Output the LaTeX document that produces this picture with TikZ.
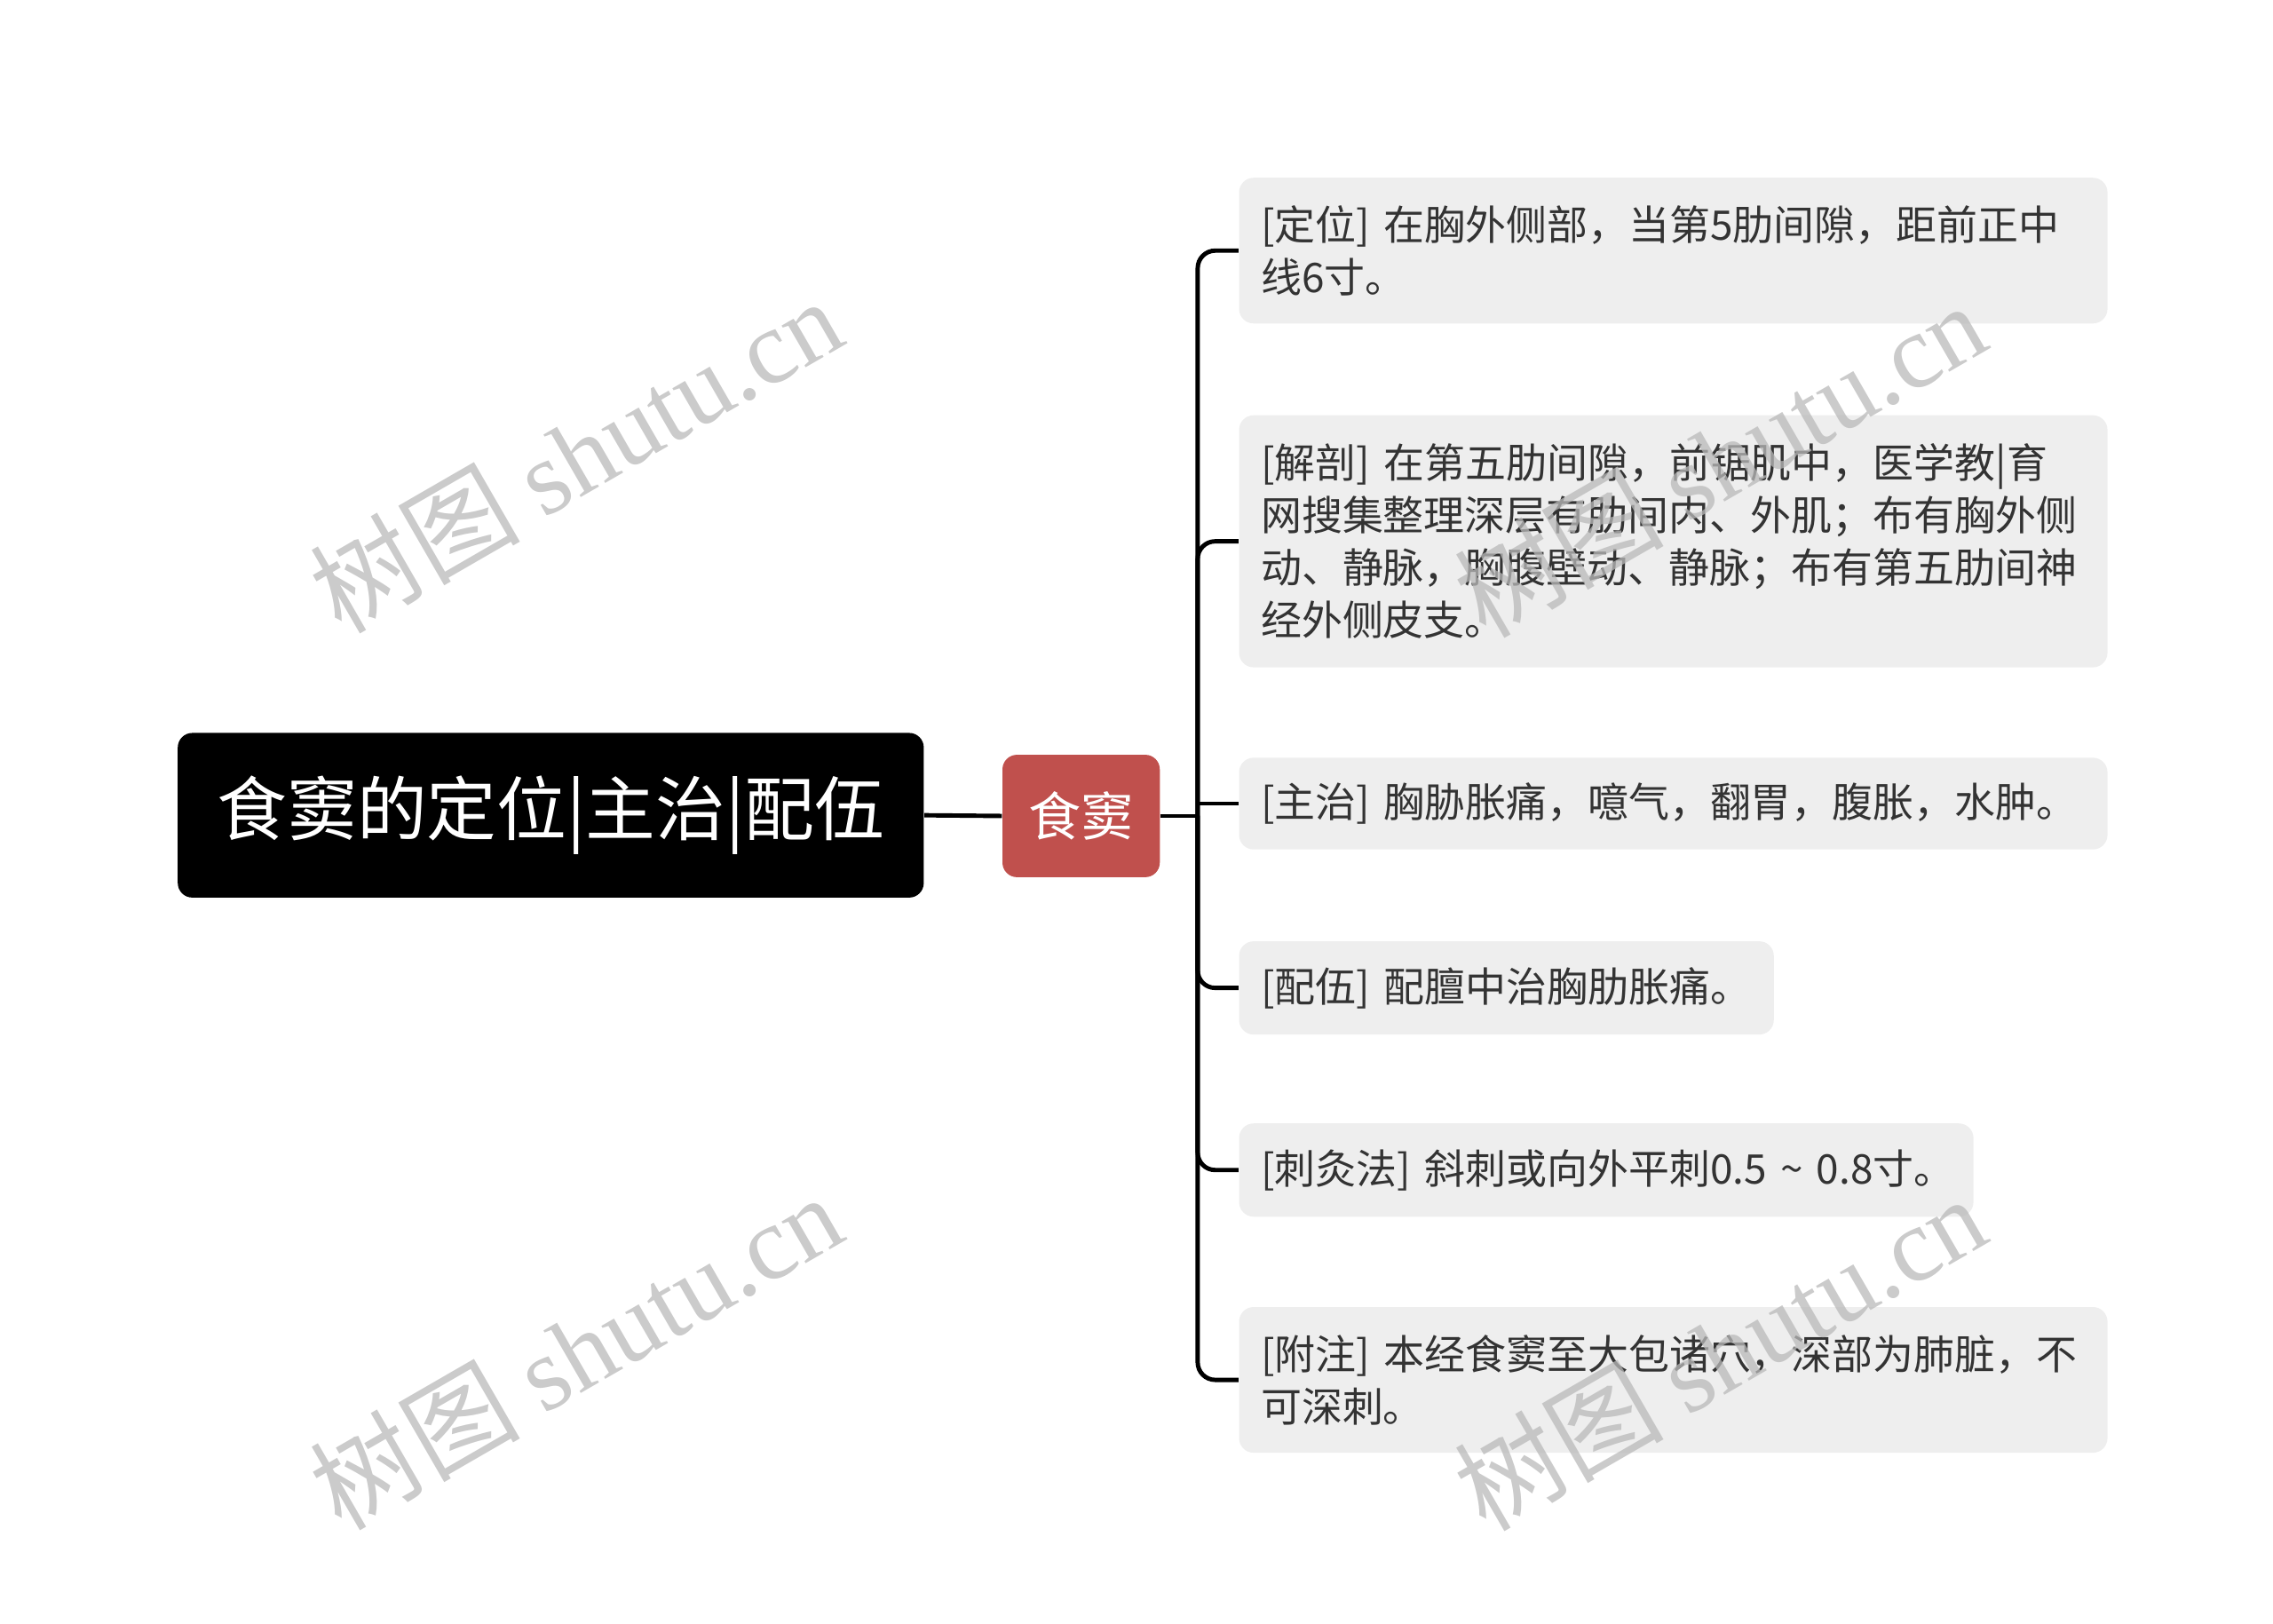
\documentclass[tikz,border=0pt]{standalone}
\usepackage{fontspec}
\setmainfont{Noto Sans CJK SC}
\newfontfamily\wmfont{Liberation Serif}
\usetikzlibrary{calc}

\definecolor{hubred}{RGB}{192,80,77}
\definecolor{leafgray}{RGB}{238,238,238}
\definecolor{leaftext}{RGB}{51,51,51}
\definecolor{wmgray}{RGB}{185,185,185}

\begin{document}
\begin{tikzpicture}[
  x=0.5pt,y=-0.5pt,
  link/.style={draw=black,line width=1.5pt,rounded corners=6pt},
  topic/.style={rectangle,rounded corners=5pt,inner sep=0pt,align=center},
  leaf/.style={rectangle,rounded corners=5pt,fill=leafgray,text=leaftext,anchor=west,
    align=left,inner xsep=7.5pt,inner ysep=0pt,font=\fontsize{14}{18}\selectfont},
  wmark/.style={text=wmgray,text opacity=0.75,rotate=30,font=\fontsize{36}{36}\selectfont}
]

\useasboundingbox (0,0) rectangle (1560,1114);

% root and hub
\node[topic,fill=black,text=white,minimum width=256pt,minimum height=56.5pt,
  font=\fontsize{24}{24}\selectfont] (root) at (378,559.5) {食窦的定位|主治|配伍};
\node[topic,fill=hubred,text=white,minimum width=54pt,minimum height=42pt,
  font=\fontsize{18}{18}\selectfont] (hub) at (742,560) {食窦};

% leaves
\node[leaf,text width=283pt,minimum height=50pt] (dingwei) at (850,172)
  {[定位] 在胸外侧部，当第5肋间隙，距前正中\\线6寸。};
\node[leaf,text width=283pt,minimum height=86.5pt] (jiepou) at (850,371.5)
  {[解剖] 在第五肋间隙，前锯肌中，医学教|育\\网搜集整理深层有肋间内、外肌；布有胸外侧\\动、静脉，胸腹壁动、静脉；布有第五肋间神\\经外侧皮支。};
\node[leaf,text width=283pt,minimum height=31.5pt] (zhuzhi) at (850,551.5)
  {[主治] 胸胁胀痛，噫气，翻胃，腹胀，水肿。};
\node[leaf,text width=168.5pt,minimum height=32pt] (peiwu) at (850,678)
  {[配伍] 配膻中治胸肋胀痛。};
\node[leaf,text width=237pt,minimum height=32pt] (cijiu) at (850,803)
  {\mbox{[刺灸法] 斜刺或向外平刺0.5 \textasciitilde\ 0.8寸。}};
\node[leaf,text width=283pt,minimum height=50pt] (fuzhu) at (850,947)
  {[附注] 本经食窦至大包诸穴，深部为肺脏，不\\可深刺。};

% connectors
\coordinate (fork) at (822,560);
\draw[link] (root.east) -- (hub.west);
\draw[link] (hub.east) -- (fork);
\foreach \leaf in {dingwei,jiepou,peiwu,cijiu,fuzhu}
  \draw[link] (fork) |- (\leaf.west);
\draw[link] (fork |- zhuzhi.west) -- (zhuzhi.west);

% watermarks
\foreach \wx/\wy in {395/312,395/927,1180/315,1180/928}
  \node[wmark] at (\wx,\wy) {树图 {\wmfont shutu.cn}};

\end{tikzpicture}
\end{document}
